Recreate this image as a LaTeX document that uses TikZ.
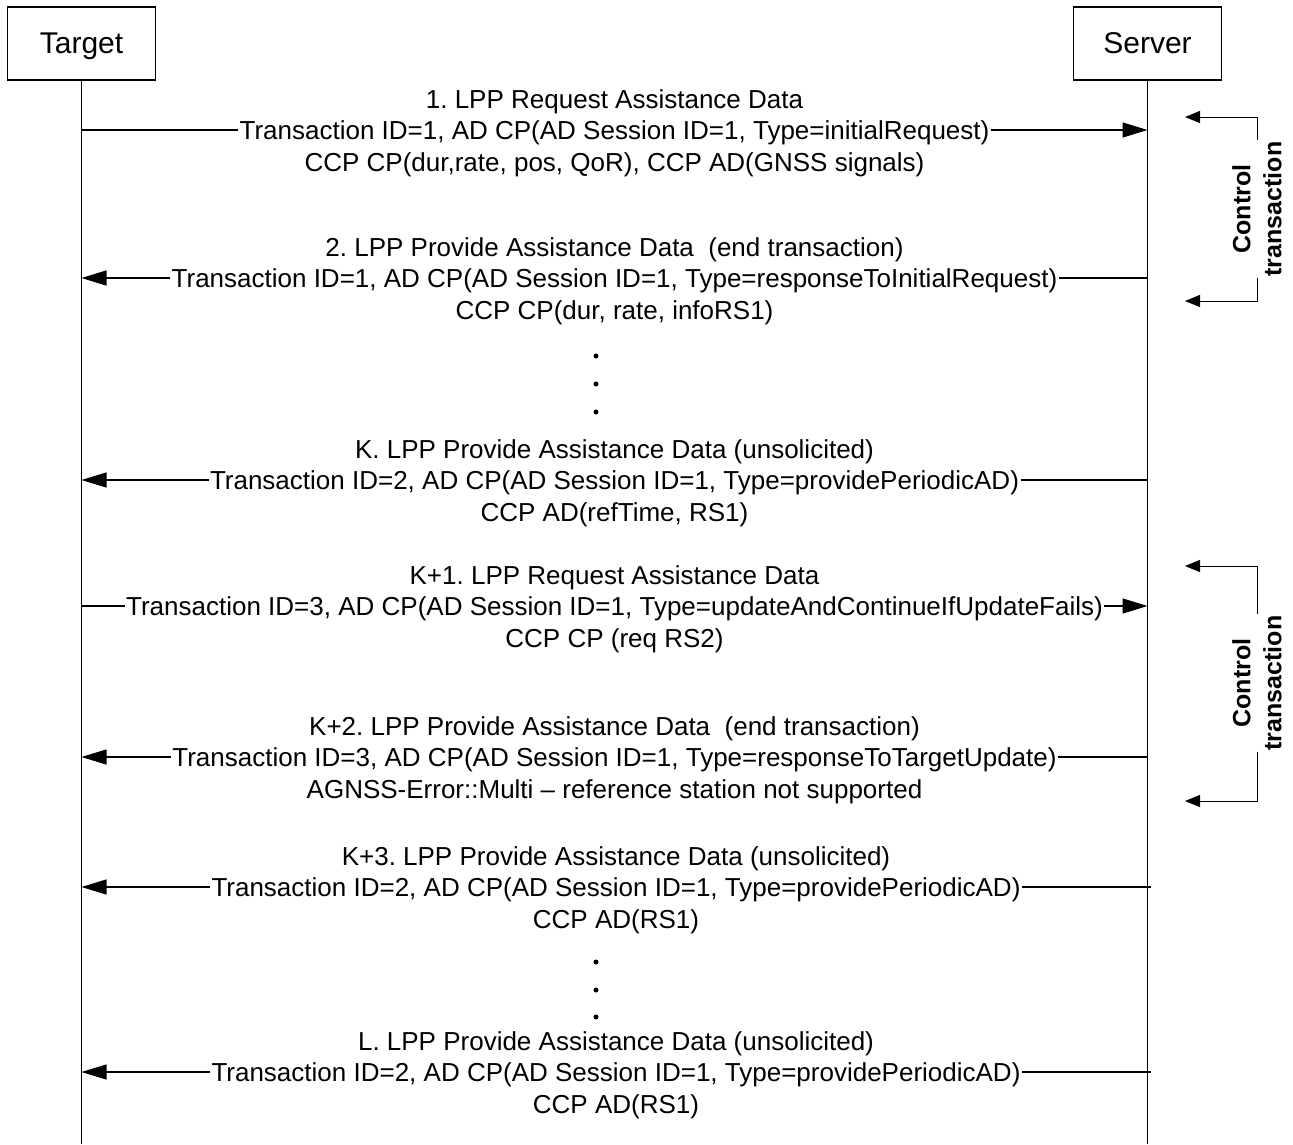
\documentclass[tikz,border=0pt]{standalone}
\usepackage{fontspec}
\setmainfont{Liberation Sans}
\frenchspacing
\usetikzlibrary{arrows.meta}
\tikzset{
  actor/.style={draw, line width=1.2pt, minimum width=148pt, minimum height=73pt, inner sep=0pt, text height=21pt, text depth=1pt, font=\fontsize{30}{36}\selectfont},
  life/.style={line width=1.3pt},
  msg/.style={line width=1.2pt, -{Triangle[length=25pt,width=15pt]}},
  lbl/.style={fill=white, align=center, inner xsep=1.5pt, inner ysep=0pt, yshift=-3pt, font=\fontsize{26}{31.5}\selectfont},
  ctl/.style={line width=1pt, -{Triangle[length=15pt,width=12pt]}},
  ctltxt/.style={rotate=90, align=center, inner sep=1pt, font=\bfseries\fontsize{25}{31}\selectfont},
  dot/.style={circle, fill, inner sep=0pt, minimum size=5pt}
}
\def\dmsg{\draw[msg]}

\begin{document}
\begin{tikzpicture}[x=1pt,y=-1pt]
  \useasboundingbox (0,0) rectangle (1293,1144);
  \node[actor] (target) at (81.5,43.5) {Target};
  \node[actor] (server) at (1147.5,43.5) {Server};
  \coordinate (tend) at (81.5,1144);
  \coordinate (send) at (1147.5,1144);
  \draw[life] (target) -- (tend);
  \draw[life] (server) -- (send);

  \coordinate (t1) at (81.5,130);  \coordinate (s1) at (1147.5,130);
  \coordinate (t2) at (81.5,278);  \coordinate (s2) at (1147.5,278);
  \coordinate (t3) at (81.5,480);  \coordinate (s3) at (1147.5,480);
  \coordinate (t4) at (81.5,606);  \coordinate (s4) at (1147.5,606);
  \coordinate (t5) at (81.5,757);  \coordinate (s5) at (1147.5,757);
  \coordinate (t6) at (81.5,887);  \coordinate (s6) at (1150.5,887);
  \coordinate (t7) at (81.5,1072); \coordinate (s7) at (1150.5,1072);

  \dmsg (t1) -- node[lbl] (m1) {1. LPP Request Assistance Data\\Transaction ID=1, AD CP(AD Session ID=1, Type=initialRequest)\\CCP CP(dur,rate, pos, QoR), CCP AD(GNSS signals)} (s1);
  \dmsg (s2) -- node[lbl] (m2) {2. LPP Provide Assistance Data\ \ (end transaction)\\Transaction ID=1, AD CP(AD Session ID=1, Type=responseToInitialRequest)\\CCP CP(dur, rate, infoRS1)} (t2);
  \dmsg (s3) -- node[lbl] (m3) {K. LPP Provide Assistance Data (unsolicited)\\Transaction ID=2, AD CP(AD Session ID=1, Type=providePeriodicAD)\\CCP AD(refTime, RS1)} (t3);
  \dmsg (t4) -- node[lbl] (m4) {K+1. LPP Request Assistance Data\\Transaction ID=3, AD CP(AD Session ID=1, Type=updateAndContinueIfUpdateFails)\\CCP CP (req RS2)} (s4);
  \dmsg (s5) -- node[lbl] (m5) {K+2. LPP Provide Assistance Data\ \ (end transaction)\\Transaction ID=3, AD CP(AD Session ID=1, Type=responseToTargetUpdate)\\AGNSS-Error::Multi -- reference station not supported} (t5);
  \dmsg (s6) -- node[lbl] (m6) {K+3. LPP Provide Assistance Data (unsolicited)\\Transaction ID=2, AD CP(AD Session ID=1, Type=providePeriodicAD)\\CCP AD(RS1)} (t6);
  \dmsg (s7) -- node[lbl] (m7) {L. LPP Provide Assistance Data (unsolicited)\\Transaction ID=2, AD CP(AD Session ID=1, Type=providePeriodicAD)\\CCP AD(RS1)} (t7);

  \node[dot] (d1) at (596,356) {};
  \node[dot] (d2) at (596,384) {};
  \node[dot] (d3) at (596,412) {};
  \node[dot] (d4) at (596,962) {};
  \node[dot] (d5) at (596,990) {};
  \node[dot] (d6) at (596,1017) {};

  \node[ctltxt] (ct1) at (1257,209) {Control\\transaction};
  \coordinate (ca1) at (1185,117);
  \coordinate (cb1) at (1185,301);
  \draw[ctl] (ct1.east) |- (ca1);
  \draw[ctl] (ct1.west) |- (cb1);

  \node[ctltxt] (ct2) at (1257,683) {Control\\transaction};
  \coordinate (ca2) at (1185,566);
  \coordinate (cb2) at (1185,801);
  \draw[ctl] (ct2.east) |- (ca2);
  \draw[ctl] (ct2.west) |- (cb2);
\end{tikzpicture}
\end{document}
